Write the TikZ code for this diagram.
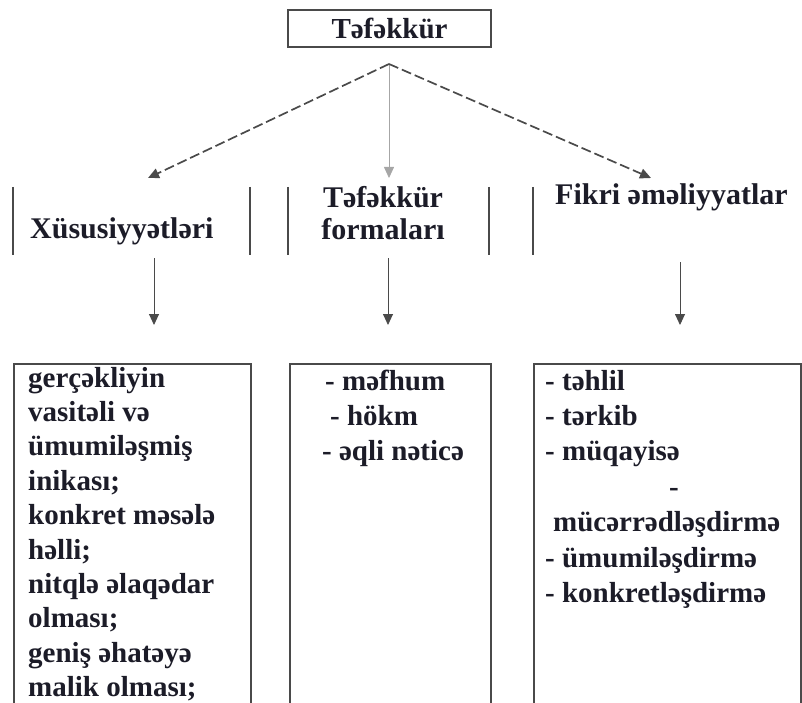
\documentclass[tikz,border=0pt]{standalone}
\usepackage{fontspec}
\setmainfont{Liberation Serif}
\usetikzlibrary{arrows.meta}
\definecolor{ink}{HTML}{1C1C28}
\definecolor{rule}{HTML}{4A4A4A}
\begin{document}
\begin{tikzpicture}[x=1pt,y=-1pt,
    txt/.style={font=\bfseries\fontsize{29}{35.4}\selectfont, text=ink, inner sep=0pt},
    head/.style={txt, font=\bfseries\fontsize{30}{32}\selectfont},
    col/.style={draw=rule, line width=1.8pt, anchor=north west, inner sep=0pt},
    arr/.style={-{Triangle[length=11pt,width=10pt]}, draw=rule, line width=0.9pt},
    dsh/.style={arr, line width=1.7pt, dash pattern=on 10pt off 4pt}]
  \useasboundingbox (0,0) rectangle (802,703);
  \clip (0,0) rectangle (802,703); % the three boxes run off the page

  \node[txt, draw=rule, line width=1.5pt, minimum width=203pt, minimum height=37pt] (top) at (389.5,28.5) {Təfəkkür};
  \coordinate (apex) at (389,64);
  \coordinate (xustip) at (148,178);
  \coordinate (formtip) at (389,178);
  \coordinate (fikritip) at (651,178);
  \draw[dsh] (apex) -- (xustip);
  \draw[arr, draw=gray!70, line width=0.8pt] (apex) -- (formtip);
  \draw[dsh] (apex) -- (fikritip);

  % header bars
  \foreach \x in {13,250,288,489,533}{
    \draw[rule, line width=1.8pt] (\x,187) -- (\x,255);
  }
  \node[head, anchor=base west] (xus) at (30,238) {Xüsusiyyətləri};
  \node[head, anchor=base, align=center] (form) at (383,239) {Təfəkkür\\formaları};
  \node[head, anchor=base west] (fikri) at (555,205) {Fikri əməliyyatlar};

  % boxes
  \node[col, minimum width=237pt, minimum height=400pt] (xusbox) at (13,363) {};
  \node[col, minimum width=201pt, minimum height=400pt] (formbox) at (289,363) {};
  \node[col, minimum width=267pt, minimum height=400pt] (fikribox) at (533,363) {};

  \coordinate (xusout) at (154,258);
  \coordinate (formout) at (388,258);
  \coordinate (fikriout) at (680,262);
  \draw[arr, shorten >=38pt] (xusout) -- (xusout |- xusbox.north);
  \draw[arr, shorten >=38pt] (formout) -- (formout |- formbox.north);
  \draw[arr, shorten >=38pt] (fikriout) -- (fikriout |- fikribox.north);

  % base anchor sits on the last line
  \node[txt, anchor=base west, align=left, font=\bfseries\fontsize{29}{34.4}\selectfont] (xustext) at (28,696.6) {gerçəkliyin\\vasitəli və\\ümumiləşmiş\\inikası;\\konkret məsələ\\həlli;\\nitqlə əlaqədar\\olması;\\geniş əhatəyə\\malik olması;};
  \node[txt, anchor=base west, align=left] (formtext) at (325,460.8) {- məfhum\\\hspace*{5pt}- hökm\\\hspace*{-3pt}- əqli nəticə};
  \node[txt, anchor=base west, align=left] (fikritext) at (545,602.4) {- təhlil\\- tərkib\\- müqayisə\\\hspace*{124pt}-\\\hspace*{8pt}mücərrədləşdirmə\\- ümumiləşdirmə\\- konkretləşdirmə};
\end{tikzpicture}
\end{document}
